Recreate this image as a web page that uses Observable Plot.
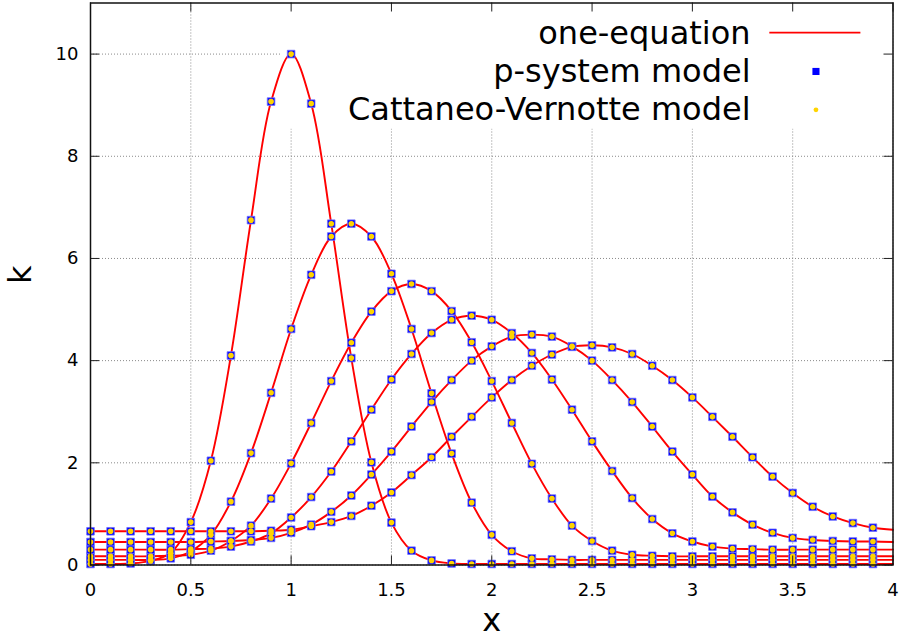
<!DOCTYPE html>
<html>
<head>
<meta charset="utf-8">
<script src="https://cdn.jsdelivr.net/npm/d3@7"></script>
<script src="https://cdn.jsdelivr.net/npm/@observablehq/plot@0.6"></script>
<style>
  html, body { margin: 0; padding: 0; background: #fff; }
  #chart svg { display: block; }
</style>
</head>
<body>
<div id="chart"></div>
<script>
// Grid of x positions where k is sampled
const xs = [0.0, 0.1, 0.2, 0.3, 0.4, 0.5, 0.6, 0.7, 0.8, 0.9,
            1.0, 1.1, 1.2, 1.3, 1.4, 1.5, 1.6, 1.7, 1.8, 1.9,
            2.0, 2.1, 2.2, 2.3, 2.4, 2.5, 2.6, 2.7, 2.8, 2.9,
            3.0, 3.1, 3.2, 3.3, 3.4, 3.5, 3.6, 3.7, 3.8, 3.9, 4.0];

// k(x) profiles at six successive times (pulse travelling right and spreading)
const k1 = [0.02, 0.02, 0.03, 0.08, 0.24, 0.84, 2.04, 4.10, 6.75, 9.07,
            10.0, 9.03, 6.68, 4.05, 2.01, 0.83, 0.28, 0.09, 0.03, 0.02,
            0.02, 0.02, 0.02, 0.02, 0.02, 0.02, 0.02, 0.02, 0.02, 0.02,
            0.02, 0.02, 0.02, 0.02, 0.02, 0.02, 0.02, 0.02, 0.02, 0.02, 0.02];
const k2 = [0.10, 0.10, 0.10, 0.10, 0.13, 0.27, 0.59, 1.24, 2.19, 3.37,
            4.62, 5.68, 6.43, 6.68, 6.43, 5.70, 4.62, 3.36, 2.18, 1.22,
            0.59, 0.27, 0.13, 0.11, 0.10, 0.10, 0.10, 0.10, 0.10, 0.10,
            0.10, 0.10, 0.10, 0.10, 0.10, 0.10, 0.10, 0.10, 0.10, 0.10, 0.10];
const k3 = [0.17, 0.17, 0.17, 0.17, 0.18, 0.20, 0.28, 0.47, 0.77, 1.30,
            1.99, 2.78, 3.60, 4.35, 4.96, 5.36, 5.50, 5.36, 4.97, 4.36,
            3.60, 2.78, 1.98, 1.30, 0.77, 0.47, 0.28, 0.20, 0.18, 0.17,
            0.17, 0.17, 0.17, 0.17, 0.17, 0.17, 0.17, 0.17, 0.17, 0.17, 0.17];
const k4 = [0.30, 0.30, 0.30, 0.30, 0.30, 0.31, 0.32, 0.36, 0.46, 0.62,
            0.93, 1.33, 1.83, 2.42, 3.04, 3.63, 4.13, 4.54, 4.80, 4.88,
            4.80, 4.54, 4.15, 3.63, 3.04, 2.42, 1.84, 1.31, 0.90, 0.62,
            0.46, 0.36, 0.32, 0.31, 0.30, 0.30, 0.30, 0.30, 0.30, 0.30, 0.30];
const k5 = [0.45, 0.45, 0.45, 0.45, 0.45, 0.45, 0.46, 0.47, 0.49, 0.53,
            0.63, 0.79, 1.04, 1.36, 1.77, 2.22, 2.71, 3.19, 3.62, 4.00,
            4.28, 4.47, 4.51, 4.47, 4.28, 4.00, 3.62, 3.19, 2.71, 2.22,
            1.77, 1.34, 1.03, 0.79, 0.63, 0.53, 0.49, 0.47, 0.46, 0.46, 0.45];
const k6 = [0.66, 0.66, 0.66, 0.66, 0.66, 0.66, 0.66, 0.66, 0.66, 0.67,
            0.69, 0.76, 0.84, 0.96, 1.16, 1.42, 1.76, 2.11, 2.51, 2.90,
            3.28, 3.62, 3.90, 4.12, 4.27, 4.30, 4.26, 4.13, 3.90, 3.62,
            3.28, 2.90, 2.51, 2.11, 1.73, 1.41, 1.14, 0.95, 0.82, 0.73, 0.69];

const profiles = [k1, k2, k3, k4, k5, k6];

// Axis ticks and their labels
const xTicks = [0, 0.5, 1, 1.5, 2, 2.5, 3, 3.5, 4];
const xTickLabels = ["0", "0.5", "1", "1.5", "2", "2.5", "3", "3.5", "4"];
const yTicks = [0, 2, 4, 6, 8, 10];
const yTickLabels = ["0", "2", "4", "6", "8", "10"];

// Key entries
const keyLabels = ["one-equation", "p-system model", "Cattaneo-Vernotte model"];

// Long-format table: one row per (profile, x)
const rows = profiles.flatMap((ks, run) => ks.map((k, i) => ({run, x: xs[i], k})));
// Model markers are shown on every grid node up to x = 3.9
const markers = rows.filter(d => d.x < 3.95);

const W = 901, H = 640;
const mL = 90, mR = 8.5, mT = 2.5, mB = 75.5;
const xDom = [0, 4], yDom = [0, 11];
// inward tick length (9px) expressed in data units
const tickX = 9 * (xDom[1] - xDom[0]) / (W - mL - mR);
const tickY = 9 * (yDom[1] - yDom[0]) / (H - mT - mB);

const font = "'DejaVu Sans', 'Liberation Sans', sans-serif";
const gridStyle = {stroke: "#8a8a8a", strokeOpacity: 1, strokeWidth: 1, strokeDasharray: "1,2"};

const chart = Plot.plot({
  width: W,
  height: H,
  marginLeft: mL,
  marginRight: mR,
  marginTop: mT,
  marginBottom: mB,
  x: {domain: xDom, axis: null},
  y: {domain: yDom, axis: null},
  style: {fontFamily: font, fontSize: "18px", color: "black", background: "white", overflow: "visible"},
  marks: [
    // dotted grid
    Plot.gridX(xTicks, gridStyle),
    Plot.gridY(yTicks, gridStyle),
    // opaque key background
    Plot.rect([0], {x1: 0.948, x2: 4, y1: 8.53, y2: 11, fill: "white"}),
    // one-equation solutions
    Plot.line(rows, {x: "x", y: "k", z: "run", stroke: "#ff0000", strokeWidth: 1.9, curve: "catmull-rom"}),
    // p-system model
    Plot.dot(markers, {x: "x", y: "k", symbol: "square", r: 4.3, fill: "#0000ff", stroke: "#7070ff", strokeWidth: 0.8}),
    // Cattaneo-Vernotte model
    Plot.dot(markers, {x: "x", y: "k", r: 2.8, fill: "#ffd400"}),
    // inward ticks on all four sides
    Plot.ruleX(xTicks, {x: d => d, y1: yDom[0], y2: yDom[0] + tickY, stroke: "#222", strokeWidth: 1}),
    Plot.ruleX(xTicks, {x: d => d, y1: yDom[1] - tickY, y2: yDom[1], stroke: "#222", strokeWidth: 1}),
    Plot.ruleY(yTicks, {y: d => d, x1: xDom[0], x2: xDom[0] + tickX, stroke: "#222", strokeWidth: 1}),
    Plot.ruleY(yTicks, {y: d => d, x1: xDom[1] - tickX, x2: xDom[1], stroke: "#222", strokeWidth: 1}),
    Plot.frame({stroke: "#111", strokeWidth: 1.5}),
    // tick labels
    Plot.axisX(xTicks, {tickSize: 0, tickPadding: 18, tickFormat: d => xTickLabels[xTicks.indexOf(d)], fontSize: 18, label: null}),
    Plot.axisY(yTicks, {tickSize: 0, tickPadding: 12, tickFormat: d => yTickLabels[yTicks.indexOf(d)], fontSize: 18, label: null}),
    // axis titles
    Plot.text(["x"], {text: d => d, frameAnchor: "bottom", dy: 56, fontSize: 32, lineAnchor: "middle"}),
    Plot.text(["k"], {text: d => d, frameAnchor: "left", dx: -70, rotate: -90, fontSize: 32, lineAnchor: "middle"}),
    // key
    Plot.text([keyLabels[0]], {text: d => d, x: 3.29, y: 10.40, textAnchor: "end", fontSize: 32, lineAnchor: "middle"}),
    Plot.text([keyLabels[1]], {text: d => d, x: 3.29, y: 9.66, textAnchor: "end", fontSize: 32, lineAnchor: "middle"}),
    Plot.text([keyLabels[2]], {text: d => d, x: 3.29, y: 8.91, textAnchor: "end", fontSize: 32, lineAnchor: "middle"}),
    Plot.ruleY([10.42], {x1: 3.386, x2: 3.84, stroke: "#ff0000", strokeWidth: 1.8}),
    Plot.dot([0], {x: 3.616, y: 9.66, symbol: "square", r: 4.0, fill: "#0000ff"}),
    Plot.dot([0], {x: 3.616, y: 8.91, r: 2.4, fill: "#ffd400"})
  ]
});

document.getElementById("chart").appendChild(chart);
</script>
</body>
</html>
